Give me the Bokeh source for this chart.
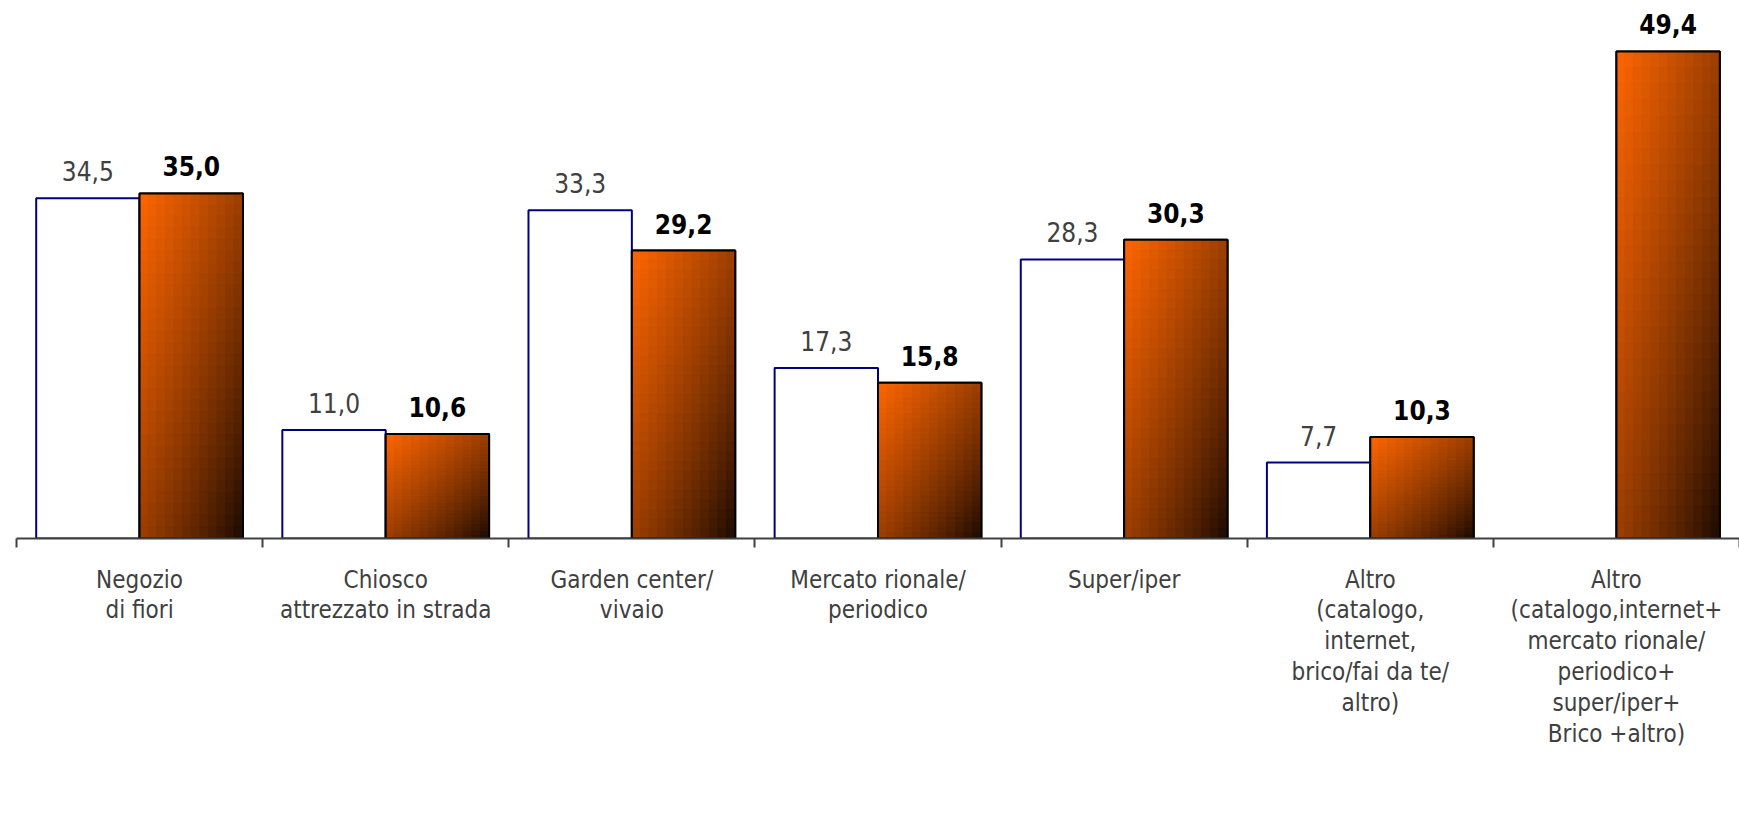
from bokeh.plotting import figure
from bokeh.models import (ColumnDataSource, Range1d, LinearAxis, FixedTicker, Legend, LegendItem)
from bokeh.transform import dodge
from bokeh.core.properties import value
from bokeh.embed import file_html
from bokeh.resources import INLINE

# ---------------- data ----------------
categories = [
    "Negozio di fiori",
    "Chiosco attrezzato in strada",
    "Garden center/vivaio",
    "Mercato rionale/periodico",
    "Super/iper",
    "Altro (catalogo, internet, brico/fai da te/altro)",
    "Altro (catalogo,internet+mercato rionale/periodico+super/iper+Brico +altro)",
]
category_labels = [
    "Negozio\ndi fiori",
    "Chiosco\nattrezzato in strada",
    "Garden center/\nvivaio",
    "Mercato rionale/\nperiodico",
    "Super/iper",
    "Altro\n(catalogo,\ninternet,\nbrico/fai da te/\naltro)",
    "Altro\n(catalogo,internet+\nmercato rionale/\nperiodico+\nsuper/iper+\nBrico +altro)",
]
marzo_08 = [34.5, 11.0, 33.3, 17.3, 28.3, 7.7, None]
marzo_09 = [35.0, 10.6, 29.2, 15.8, 30.3, 10.3, 49.4]
series_labels = ["Marzo '08 (B: 5.016.890)", "Marzo '09 (B:  5.613.411)"]

# ---------------- style ----------------
FONT = "DejaVu Sans Condensed"
BAR_W = 0.42
OFF = 0.21
NAVY = "#000080"
AXIS_C = "#404040"
NX, NY = 12, 30
C0 = (255, 102, 0)
C1 = (22, 8, 0)


def fmt(v):
    return f"{v:.1f}".replace(".", ",")


def grad(t):
    f = (1 - t) ** 0.8
    return "#%02x%02x%02x" % tuple(int(round(C1[i] + (C0[i] - C1[i]) * f)) for i in range(3))


n = len(categories)
xc = [i + 0.5 for i in range(n)]          # category centres on the linear x scale

p = figure(x_range=Range1d(0, n), y_range=Range1d(0, 53.75),
           width=1739, height=818, output_backend="svg", toolbar_location=None,
           x_axis_location=None, y_axis_location=None,
           min_border_left=16, min_border_right=0, min_border_top=8, min_border_bottom=280)
p.outline_line_color = None
p.grid.visible = False
p.background_fill_color = "white"

# ---------------- Marzo '08 bars ----------------
x08 = [x for x, v in zip(xc, marzo_08) if v is not None]
v08 = [v for v in marzo_08 if v is not None]
src08 = ColumnDataSource(dict(x=x08, val=v08, txt=[fmt(v) for v in v08]))
r08 = p.vbar(x=dodge("x", -OFF), top="val", width=BAR_W, source=src08,
             fill_color="white", line_color=NAVY, line_width=2)

# ---------------- Marzo '09 bars (diagonal gradient) ----------------
src09 = ColumnDataSource(dict(x=xc, val=marzo_09, txt=[fmt(v) for v in marzo_09]))
r09 = p.vbar(x=dodge("x", OFF), top="val", width=BAR_W, source=src09,
             fill_color="#b84a00", line_color="black", line_width=2)
for k in range(NX):
    xs, tops, bots, cols = [], [], [], []
    for x, v in zip(xc, marzo_09):
        for j in range(NY):
            xs.append(x)
            tops.append(v * (1 - j / NY))
            bots.append(v * (1 - (j + 1) / NY))
            cols.append(grad(((k + 0.5) / NX + (j + 0.5) / NY) / 2))
    s = ColumnDataSource(dict(x=xs, top=tops, bottom=bots, color=cols))
    p.vbar(x=dodge("x", (k + 0.5) * BAR_W / NX), top="top", bottom="bottom",
           width=BAR_W / NX, source=s, fill_color="color", line_color="color", line_width=1)
p.vbar(x=dodge("x", OFF), top="val", width=BAR_W, source=src09,
       fill_color=None, line_color="black", line_width=2)

# ---------------- value labels ----------------
p.text(x=dodge("x", -OFF), y="val", text="txt", source=src08,
       text_align="center", text_baseline="alphabetic", y_offset=-27,
       text_font=value(FONT), text_font_size="26px", text_color="#404040")
p.text(x=dodge("x", OFF), y="val", text="txt", source=src09,
       text_align="center", text_baseline="alphabetic", y_offset=-27,
       text_font=value(FONT), text_font_size="26px", text_font_style="bold", text_color="black")

# ---------------- axis: boundary ticks (minor) + centred labels (major) ----------------
cat_axis = LinearAxis(ticker=FixedTicker(ticks=xc, minor_ticks=list(range(n + 1))),
                      major_label_overrides=dict(zip(xc, category_labels)),
                      axis_line_color=AXIS_C, axis_line_width=2,
                      major_tick_line_color=None, major_tick_in=0, major_tick_out=0,
                      minor_tick_line_color=AXIS_C, minor_tick_line_width=2,
                      minor_tick_in=0, minor_tick_out=9,
                      major_label_text_font=FONT, major_label_text_font_size="24px",
                      major_label_text_color="#404040", major_label_text_line_height=1.1,
                      major_label_standoff=18)
p.add_layout(cat_axis, "below")

# ---------------- legend (placed below the category labels) ----------------
legend = Legend(items=[LegendItem(label=series_labels[0], renderers=[r08]),
                       LegendItem(label=series_labels[1], renderers=[r09])],
                orientation="horizontal", location=(450, -262),
                glyph_width=16, glyph_height=16, label_standoff=10, label_width=290,
                label_height=30, spacing=297, padding=0, margin=0, border_line_color=None,
                background_fill_alpha=0,
                label_text_font=FONT, label_text_font_size="26px", label_text_color="black")
p.add_layout(legend, "center")

open("out.html", "w").write(file_html(p, INLINE))
